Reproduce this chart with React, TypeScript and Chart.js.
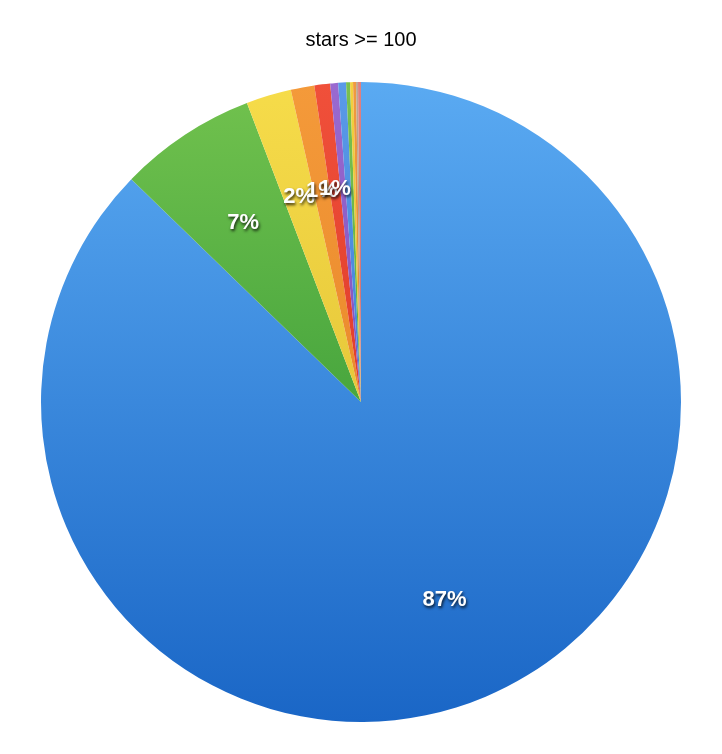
import React, { useEffect, useRef } from "react";
import { Chart, registerables } from "chart.js";
Chart.register(...registerables);

const labels = ["A", "B", "C", "D", "E", "F", "G", "H", "I", "J", "K", "L"];
const values = [88.0, 7.0, 2.3, 1.2, 0.8, 0.4, 0.4, 0.2, 0.15, 0.15, 0.1, 0.15];
const topColors = ["#5aaaf2", "#72c24e", "#f6dc4a", "#f49a3a", "#f0503a", "#9a6ad0", "#5a9ae8", "#7ac050", "#f2d040", "#f09a40", "#c0a890", "#e08080"];
const bottomColors = ["#1a66c6", "#1e8a2e", "#d8b42a", "#e07a1e", "#d02a1e", "#6a3aa8", "#2a6ac8", "#3a9a30", "#d0a820", "#d07820", "#908070", "#c06060"];

export default function App() {
  const ref = useRef<HTMLCanvasElement>(null);
  useEffect(() => {
    const labelPlugin = {
      id: "pctLabels",
      afterDatasetsDraw(chart: any) {
        const ctx = chart.ctx;
        const meta = chart.getDatasetMeta(0);
        const total = values.reduce((a, b) => a + b, 0);
        meta.data.forEach((arc: any, i: number) => {
          const pct = Math.round((values[i] / total) * 100);
          if (pct < 1) return;
          const p = arc.getProps(["x", "y", "startAngle", "endAngle", "outerRadius"], true);
          const a = (p.startAngle + p.endAngle) / 2;
          const r = p.outerRadius * 0.67;
          const x = p.x + Math.cos(a) * r;
          const y = p.y + Math.sin(a) * r;
          ctx.save();
          ctx.font = "bold 22px 'Liberation Sans', Arial, sans-serif";
          ctx.textAlign = "center";
          ctx.textBaseline = "middle";
          ctx.shadowColor = "rgba(0,0,0,0.8)";
          ctx.shadowBlur = 3;
          ctx.shadowOffsetX = 1;
          ctx.shadowOffsetY = 2;
          ctx.fillStyle = "#ffffff";
          ctx.fillText(pct + "%", x, y);
          ctx.restore();
        });
      },
    };
    const chart = new Chart(ref.current!, {
      type: "pie",
      data: {
        labels,
        datasets: [
          {
            data: values,
            borderWidth: 0,
            backgroundColor: (c: any) => {
              const area = c.chart.chartArea;
              if (!area) return topColors[c.dataIndex];
              const g = c.chart.ctx.createLinearGradient(0, area.top, 0, area.bottom);
              g.addColorStop(0, topColors[c.dataIndex]);
              g.addColorStop(1, bottomColors[c.dataIndex]);
              return g;
            },
          },
        ],
      },
      options: {
        animation: false,
        responsive: false,
        layout: { padding: { bottom: 24 } },
        plugins: {
          legend: { display: false },
          tooltip: { enabled: false },
          title: {
            display: true,
            text: "stars >= 100",
            color: "#000",
            font: { size: 20, weight: "normal", family: "'Liberation Sans', Arial, sans-serif" },
            padding: { top: 20, bottom: 30 },
          },
        },
      },
      plugins: [labelPlugin],
    });
    return () => chart.destroy();
  }, []);
  return (
    <div style={{ width: 706, height: 738 }}>
      <canvas ref={ref} width={706} height={738} style={{ width: 706, height: 738 }} />
    </div>
  );
}
